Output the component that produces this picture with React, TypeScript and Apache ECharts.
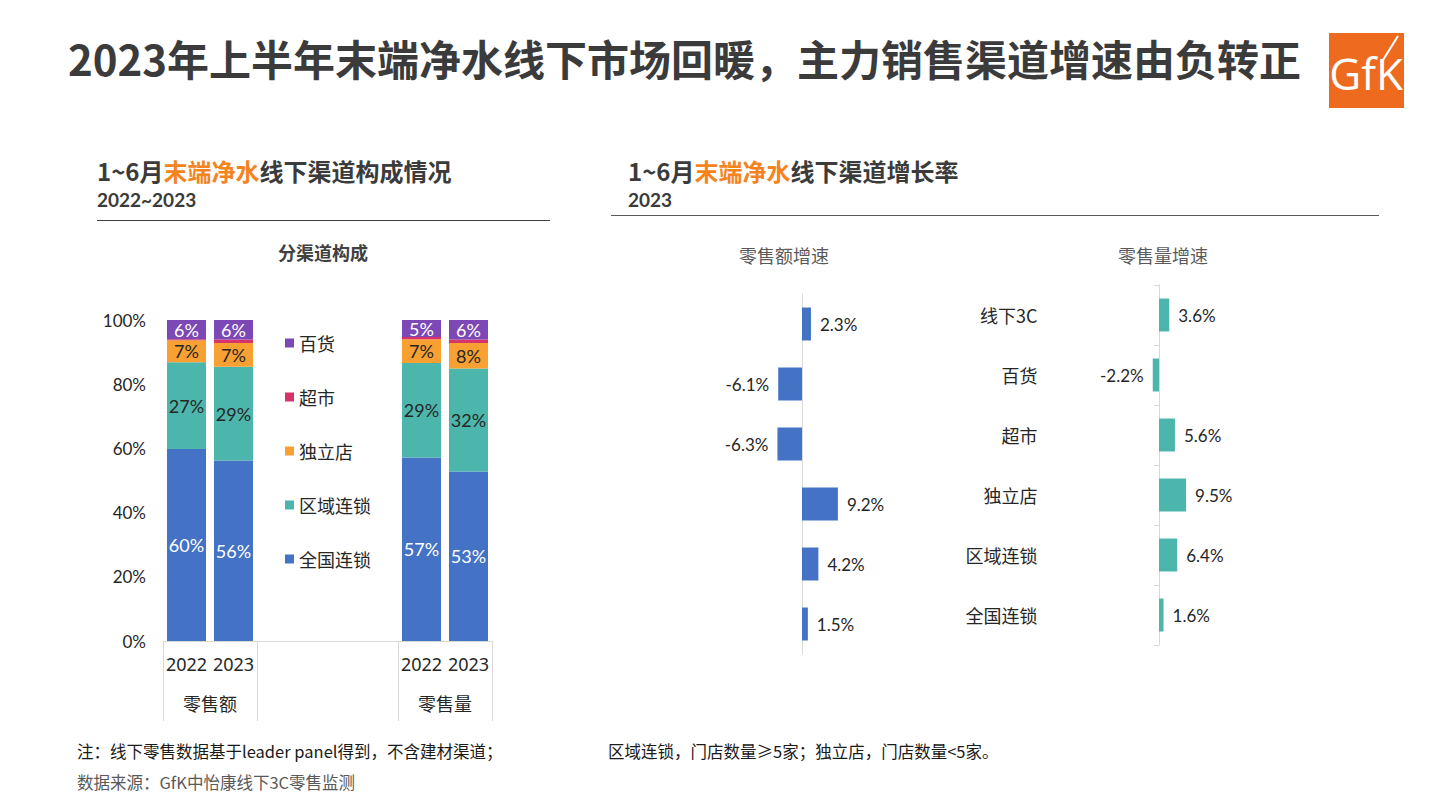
import React, { useEffect, useRef } from "react";
import * as echarts from "echarts";

// ---- Left chart: channel composition (%), stacked ----
const slotLabels = ["2022", "2023", "", "", "", "2022", "2023"];
const barSlots = [0, 1, 5, 6]; // which slots hold bars
const groupLabels = ["", "零售额", "", "", "", "", "零售量", ""];
const groupSeparators = [0, 2, 5, 7];
const nationalChain = [59.8, 56.2, 57.2, 52.8];
const regionalChain = [27.0, 29.2, 29.4, 32.1];
const independent = [6.9, 7.4, 7.4, 7.9];
const supermarket = [0.3, 1.1, 0.7, 1.1];
const deptStore = [6.0, 6.1, 5.3, 6.1];
const yTicks = { min: 0, max: 100, interval: 20 };

// ---- Right chart: growth rate 2023 (%) ----
const channels = ["线下3C", "百货", "超市", "独立店", "区域连锁", "全国连锁"];
const valueGrowth = [2.3, -6.1, -6.3, 9.2, 4.2, 1.5];
const volumeGrowth = [3.6, -2.2, 5.6, 9.5, 6.4, 1.6];

const C = {
  blue: "#4472C4",
  teal: "#4DB6AC",
  orange: "#F8A031",
  red: "#D8326A",
  purple: "#7B48B5",
  text: "#262626",
  axis: "#D9D9D9",
};

const FONT = 'Lato, "Noto Sans CJK SC", sans-serif';
const CJK = '"Noto Sans CJK SC", sans-serif';
const NUM = '"Noto Sans", "Noto Sans CJK SC", sans-serif';

function padSlots(vals: number[]) {
  const arr: (number | null)[] = slotLabels.map(() => null);
  barSlots.forEach((s, i) => (arr[s] = vals[i]));
  return arr;
}

function stackSeries(name: string, vals: number[], color: string, labelColor: string | null) {
  return {
    name,
    type: "bar",
    stack: "total",
    xAxisIndex: 0,
    yAxisIndex: 0,
    barWidth: 39,
    itemStyle: { color },
    label: labelColor
      ? {
          show: true,
          position: "inside",
          color: labelColor,
          fontSize: 18,
          fontFamily: FONT,
          formatter: (p: any) => Math.round(p.value) + "%",
        }
      : { show: false },
    data: padSlots(vals),
  };
}

function growthSeries(vals: number[], color: string, xi: number, yi: number) {
  return {
    type: "bar",
    xAxisIndex: xi,
    yAxisIndex: yi,
    barWidth: 33,
    itemStyle: { color },
    label: {
      show: true,
      color: C.text,
      fontSize: 17,
      fontFamily: FONT,
      distance: 9,
      formatter: (p: any) => p.value.toFixed(1) + "%",
    },
    data: vals.map((v) => ({
      value: v,
      label: { position: v < 0 ? "left" : "right" },
    })),
  };
}

export default function App() {
  const ref = useRef<HTMLDivElement>(null);
  useEffect(() => {
    if (!ref.current) return;
    const chart = echarts.init(ref.current, null, { renderer: "svg" });
    const header = (x: number, rest: string) => ({
      type: "text",
      x,
      y: 157,
      style: {
        text: "{d|1~6月}{o|末端净水}{d|" + rest + "}",
        rich: {
          d: { fontSize: 24, lineHeight: 26, fontWeight: "bold", fill: "#3B3B3B", fontFamily: CJK },
          o: { fontSize: 24, lineHeight: 26, fontWeight: "bold", fill: "#F5841F", fontFamily: CJK },
        },
      },
    });
    const yearLine = (x: number, text: string) => ({
      type: "text",
      x,
      y: 188.5,
      style: { text, fontSize: 19, lineHeight: 21, fontWeight: "bold", fill: "#3B3B3B", fontFamily: FONT },
    });
    const option: any = {
      animation: false,
      backgroundColor: "#FFFFFF",
      textStyle: { fontFamily: FONT },
      grid: [
        { left: 163, top: 320, width: 329, height: 321 },
        { left: 763, top: 294, width: 117, height: 360 },
        { left: 1130.5, top: 285, width: 85.5, height: 360 },
      ],
      legend: {
        orient: "vertical",
        left: 280,
        top: 329,
        itemWidth: 9,
        itemHeight: 9,
        itemGap: 36,
        icon: "rect",
        textStyle: { fontSize: 18, color: C.text, fontFamily: CJK },
        data: ["百货", "超市", "独立店", "区域连锁", "全国连锁"],
      },
      xAxis: [
        {
          gridIndex: 0,
          type: "category",
          position: "bottom",
          data: slotLabels,
          axisLine: { lineStyle: { color: C.axis } },
          axisTick: { show: false },
          axisLabel: { fontSize: 18, color: C.text, margin: 14, interval: 0, fontFamily: NUM },
        },
        {
          gridIndex: 0,
          type: "category",
          position: "bottom",
          boundaryGap: false,
          data: groupLabels,
          axisLine: { show: false },
          axisTick: {
            show: true,
            length: 80,
            lineStyle: { color: C.axis },
            interval: (i: number) => groupSeparators.includes(i),
          },
          axisLabel: { fontSize: 18, color: C.text, margin: 53, interval: 0, fontFamily: CJK },
        },
        { gridIndex: 1, type: "value", min: -10, max: 20, show: false },
        { gridIndex: 2, type: "value", min: -10, max: 20, show: false },
      ],
      yAxis: [
        {
          gridIndex: 0,
          type: "value",
          min: yTicks.min,
          max: yTicks.max,
          interval: yTicks.interval,
          axisLine: { show: false },
          axisTick: { show: false },
          splitLine: { show: false },
          axisLabel: { formatter: "{value}%", fontSize: 17, color: C.text, margin: 17, fontFamily: FONT },
        },
        {
          gridIndex: 1,
          type: "category",
          inverse: true,
          data: channels,
          axisLine: { lineStyle: { color: C.axis } },
          axisTick: { show: false },
          axisLabel: { show: false },
        },
        {
          gridIndex: 2,
          type: "category",
          inverse: true,
          data: channels,
          axisLine: { lineStyle: { color: C.axis } },
          axisTick: { show: true, length: 5, lineStyle: { color: C.axis } },
          axisLabel: { fontSize: 18, color: C.text, margin: 93, fontFamily: CJK },
        },
      ],
      series: [
        stackSeries("全国连锁", nationalChain, C.blue, "#FFFFFF"),
        stackSeries("区域连锁", regionalChain, C.teal, C.text),
        stackSeries("独立店", independent, C.orange, C.text),
        stackSeries("超市", supermarket, C.red, null),
        stackSeries("百货", deptStore, C.purple, "#FFFFFF"),
        growthSeries(valueGrowth, C.blue, 2, 1),
        growthSeries(volumeGrowth, C.teal, 3, 2),
      ],
      graphic: [
        {
          type: "text",
          left: 68,
          top: 36,
          style: {
            text: "2023年上半年末端净水线下市场回暖，主力销售渠道增速由负转正",
            fontSize: 42,
            fontWeight: "bold",
            fill: "#3B3B3B",
            fontFamily: CJK,
          },
        },
        // GfK logo
        { type: "rect", shape: { x: 1329, y: 33, width: 75, height: 75 }, style: { fill: "#EE6A1F" } },
        {
          type: "text",
          x: 1366,
          y: 73,
          style: {
            text: "GfK",
            fontSize: 44,
            fill: "#FFFFFF",
            fontFamily: '"Open Sans", sans-serif',
            align: "center",
            verticalAlign: "middle",
          },
        },
        { type: "line", shape: { x1: 1383, y1: 60, x2: 1398, y2: 36 }, style: { stroke: "#FFFFFF", lineWidth: 2 } },
        // left section header
        header(97, "线下渠道构成情况"),
        yearLine(97, "2022~2023"),
        { type: "line", shape: { x1: 97, y1: 220.5, x2: 550, y2: 220.5 }, style: { stroke: "#404040", lineWidth: 1 } },
        {
          type: "text",
          x: 323,
          y: 252,
          style: {
            text: "分渠道构成",
            fontSize: 18,
            fontWeight: "bold",
            fill: "#404040",
            fontFamily: CJK,
            align: "center",
            verticalAlign: "middle",
          },
        },
        // right section header
        header(628, "线下渠道增长率"),
        yearLine(628, "2023"),
        { type: "line", shape: { x1: 611, y1: 215.5, x2: 1379, y2: 215.5 }, style: { stroke: "#595959", lineWidth: 1 } },
        {
          type: "text",
          x: 784,
          y: 255,
          style: { text: "零售额增速", fontSize: 18, fill: "#595959", fontFamily: CJK, align: "center", verticalAlign: "middle" },
        },
        {
          type: "text",
          x: 1163,
          y: 255,
          style: { text: "零售量增速", fontSize: 18, fill: "#595959", fontFamily: CJK, align: "center", verticalAlign: "middle" },
        },
        // footnotes
        {
          type: "text",
          x: 77,
          y: 751,
          style: {
            text: "注：线下零售数据基于leader panel得到，不含建材渠道；",
            fontSize: 16.5,
            fill: "#1A1A1A",
            fontFamily: CJK,
            verticalAlign: "middle",
          },
        },
        {
          type: "text",
          x: 608,
          y: 751,
          style: {
            text: "区域连锁，门店数量≥5家；独立店，门店数量<5家。",
            fontSize: 16.5,
            fill: "#1A1A1A",
            fontFamily: CJK,
            verticalAlign: "middle",
          },
        },
        {
          type: "text",
          x: 77,
          y: 782,
          style: {
            text: "数据来源：GfK中怡康线下3C零售监测",
            fontSize: 16.5,
            fill: "#595959",
            fontFamily: CJK,
            verticalAlign: "middle",
          },
        },
      ],
    };
    chart.setOption(option);
    return () => chart.dispose();
  }, []);
  return (
    <div
      ref={ref}
      style={{ position: "fixed", left: 0, top: 0, width: 1441, height: 810, background: "#fff" }}
    />
  );
}
